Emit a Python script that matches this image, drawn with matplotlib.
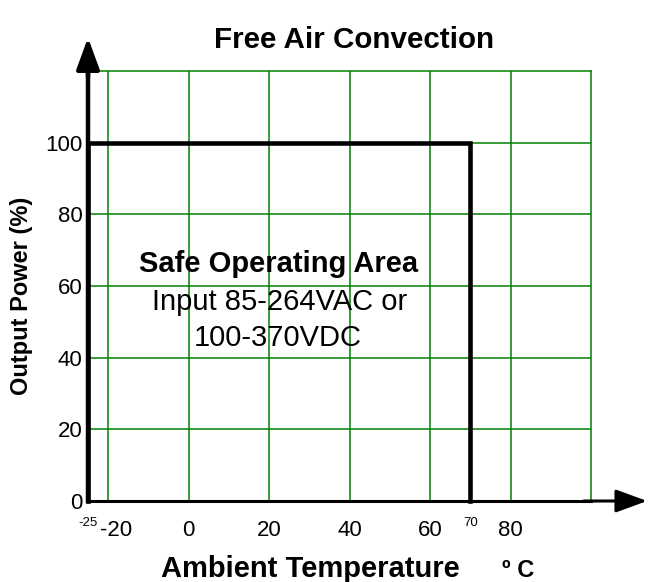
import matplotlib.pyplot as plt
from matplotlib.transforms import ScaledTranslation

plt.rcParams['font.family'] = ['Liberation Sans', 'DejaVu Sans']
plt.rcParams['axes.unicode_minus'] = False

# derating curve (temperature in C, output power in %)
temps = [-25, -25, 70, 70]
power = [0, 100, 100, 0]

x_ticks = [-20, 0, 20, 40, 60, 80]
y_ticks = [0, 20, 40, 60, 80, 100]
x_min, x_max = -25, 100
y_min, y_max = 0, 120

fig = plt.figure(figsize=(6.5, 5.82), dpi=100)
ax = fig.add_axes([88/650, 1 - 501/582, (591 - 88)/650, (501 - 71)/582])

ax.set_xlim(x_min, x_max)
ax.set_ylim(y_min, y_max)
ax.set_xticks(x_ticks)
ax.set_yticks(y_ticks)
ax.tick_params(length=0, labelsize=16)
ax.tick_params(axis='x', pad=14)
ax.tick_params(axis='y', pad=4)
ax.grid(True, color='#008000', lw=1.1)
ax.set_axisbelow(True)

# nudge the -20 label right so it clears the small -25 corner label
lbl = ax.get_xticklabels()[0]
lbl.set_transform(lbl.get_transform() + ScaledTranslation(8/100, 0, fig.dpi_scale_trans))

for s in ['top', 'right']:
    ax.spines[s].set_color('#008000')
    ax.spines[s].set_linewidth(1.1)
ax.spines['left'].set_color('black')
ax.spines['left'].set_linewidth(3.2)
ax.spines['bottom'].set_color('black')
ax.spines['bottom'].set_linewidth(2.2)

ax.plot(temps, power, color='black', lw=3.3, solid_joinstyle='miter', clip_on=False, zorder=5)

# axis arrows
head = '-|>,head_length=0.6,head_width=0.22'
ax.annotate('', xy=(1.117, 0), xytext=(0.98, 0), xycoords='axes fraction',
            arrowprops=dict(arrowstyle=head, mutation_scale=32, lw=2.2, color='black'))
ax.annotate('', xy=(0, 1.084), xytext=(0, 0.98), xycoords='axes fraction',
            arrowprops=dict(arrowstyle=head, mutation_scale=32, lw=3.2, color='black'))

# small labels for curve corners
ax.text(temps[0], -7.1, '-25', fontsize=9.5, ha='center', va='baseline')
ax.text(temps[2], -7.1, '70', fontsize=9.5, ha='center', va='baseline')

ax.text(22.3, 63.9, 'Safe Operating Area', fontsize=21, fontweight='bold', ha='center', va='baseline')
ax.text(22.5, 53.3, 'Input 85-264VAC or', fontsize=21, ha='center', va='baseline')
ax.text(22.1, 43.3, '100-370VDC', fontsize=21, ha='center', va='baseline')

fig.text(354/650, 1 - 48/582, 'Free Air Convection', fontsize=21.3, fontweight='bold', ha='center', va='baseline')
fig.text(22/650, 1 - 296/582, 'Output Power (%)', fontsize=17, fontweight='bold', rotation=90, ha='center', va='center')
fig.text(310/650, 1 - 577/582, 'Ambient Temperature', fontsize=21, fontweight='bold', ha='center', va='baseline')
fig.text(518/650, 1 - 577/582, 'º C', fontsize=17, fontweight='bold', ha='center', va='baseline')

fig.savefig('out.png', dpi=100)
